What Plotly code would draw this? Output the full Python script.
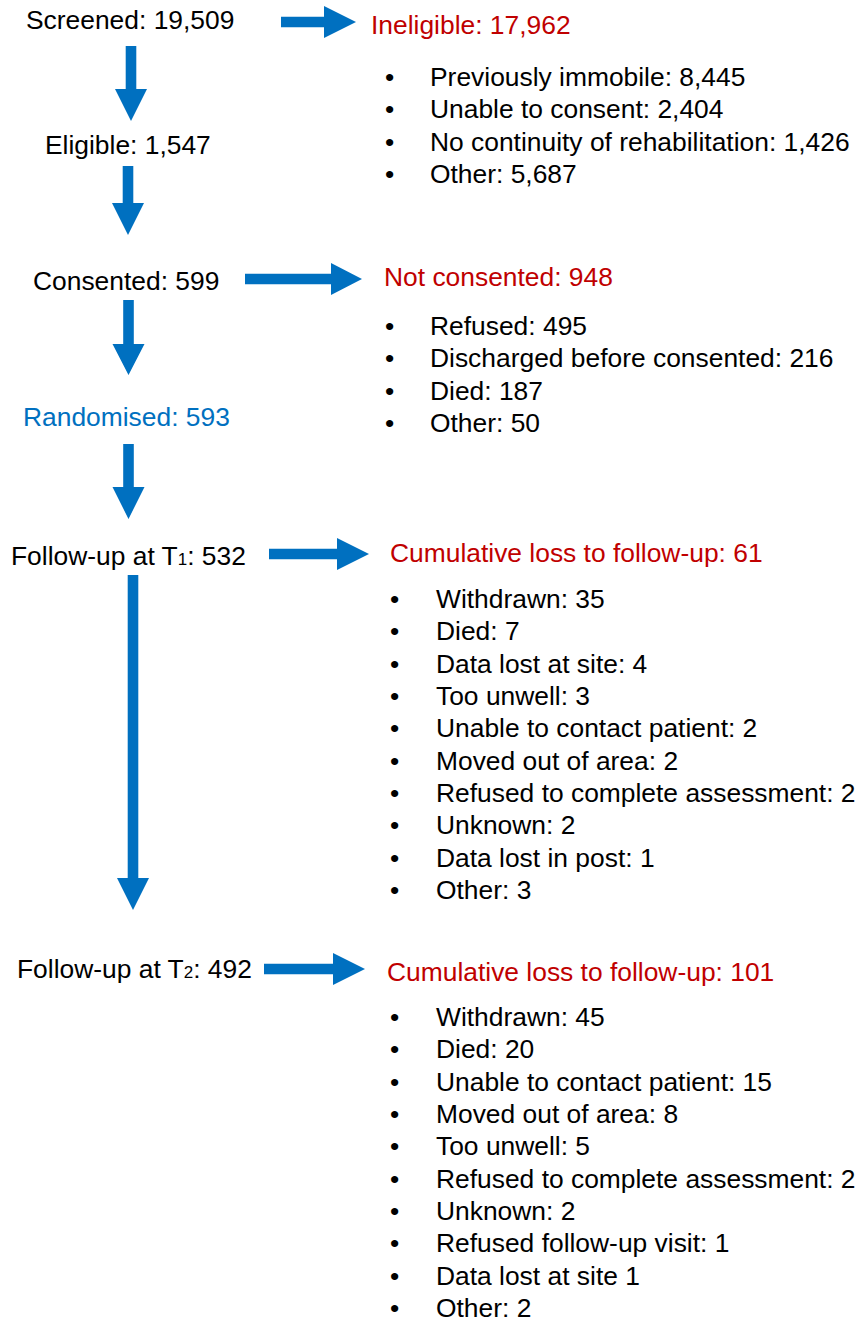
import plotly.graph_objects as go

# ---------------- data ----------------
stage_names = ["Screened", "Eligible", "Consented", "Randomised",
               "Follow-up at T<span style='font-size:17px'>1</span>",
               "Follow-up at T<span style='font-size:17px'>2</span>"]
stage_counts = ["19,509", "1,547", "599", "593", "532", "492"]

exit_titles = ["Ineligible", "Not consented",
               "Cumulative loss to follow-up", "Cumulative loss to follow-up"]
exit_counts = ["17,962", "948", "61", "101"]

ineligible_reasons = ["Previously immobile: 8,445", "Unable to consent: 2,404",
                      "No continuity of rehabilitation: 1,426", "Other: 5,687"]
not_consented_reasons = ["Refused: 495", "Discharged before consented: 216",
                         "Died: 187", "Other: 50"]
loss_t1_reasons = ["Withdrawn: 35", "Died: 7", "Data lost at site: 4",
                   "Too unwell: 3", "Unable to contact patient: 2",
                   "Moved out of area: 2", "Refused to complete assessment: 2",
                   "Unknown: 2", "Data lost in post: 1", "Other: 3"]
loss_t2_reasons = ["Withdrawn: 45", "Died: 20", "Unable to contact patient: 15",
                   "Moved out of area: 8", "Too unwell: 5",
                   "Refused to complete assessment: 2", "Unknown: 2",
                   "Refused follow-up visit: 1", "Data lost at site 1", "Other: 2"]
reason_lists = [ineligible_reasons, not_consented_reasons,
                loss_t1_reasons, loss_t2_reasons]

# ---------------- layout / style ----------------
W, H = 863, 1320
FONT = "Liberation Sans, Arial, sans-serif"
FS = 26.4
BLUE = "#0070C0"
RED = "#C00000"
LINE = 32.35

stage_pos = [(130, 20), (128, 145), (126, 281), (126, 417), (128, 556), (134, 969)]
stage_colors = ["black", "black", "black", BLUE, "black", "black"]

exit_pos = [(369, 25), (382, 277), (388, 553), (385, 972)]
bullet_x = [389, 389, 394, 394]
item_x = [428, 428, 434, 434]
first_item_y = [77, 326, 599, 1017]

# down arrows: (x center, top, head start, tip)
down_arrows = [(131, 46, 89, 121), (128, 166, 203, 235), (128.5, 300, 344, 375),
               (128.5, 444, 487, 519), (133, 575, 878, 910)]
# right arrows: (x start, head start, tip, y center)
right_arrows = [(281, 324, 356, 22), (245, 331, 362, 279),
                (269, 337, 369, 554), (264, 333, 365, 969)]
SHAFT = 5.3
HEAD = 16

fig = go.Figure()


def add_poly(xs, ys):
    fig.add_trace(go.Scatter(x=xs + [xs[0]], y=ys + [ys[0]], mode="lines",
                             fill="toself", fillcolor=BLUE,
                             line=dict(width=0, color=BLUE),
                             hoverinfo="skip", showlegend=False))


for cx, top, hs, tip in down_arrows:
    xs = [cx - SHAFT, cx + SHAFT, cx + SHAFT, cx + HEAD, cx, cx - HEAD, cx - SHAFT]
    ys = [top, top, hs, hs, tip, hs, hs]
    add_poly(xs, ys)

for x0, hs, tip, cy in right_arrows:
    xs = [x0, hs, hs, tip, hs, hs, x0]
    ys = [cy - SHAFT, cy - SHAFT, cy - HEAD, cy, cy + HEAD, cy + SHAFT, cy + SHAFT]
    add_poly(xs, ys)

annotations = []
for (x, y), name, cnt, col in zip(stage_pos, stage_names, stage_counts, stage_colors):
    annotations.append(dict(x=x, y=y, text=f"{name}: {cnt}", showarrow=False,
                            xanchor="center", yanchor="middle",
                            font=dict(family=FONT, size=FS, color=col)))

for (x, y), title, cnt in zip(exit_pos, exit_titles, exit_counts):
    annotations.append(dict(x=x, y=y, text=f"{title}: {cnt}", showarrow=False,
                            xanchor="left", yanchor="middle",
                            font=dict(family=FONT, size=FS, color=RED)))

for reasons, bx, tx, y0 in zip(reason_lists, bullet_x, item_x, first_item_y):
    for i, r in enumerate(reasons):
        y = y0 + i * LINE
        extra = {}
        if y + 17 > H:  # keep the text box inside the page at the bottom edge
            extra = dict(height=2 * (H - y) - 2)
        annotations.append(dict(x=bx, y=y, text="•", showarrow=False,
                                xanchor="center", yanchor="middle",
                                font=dict(family=FONT, size=FS, color="black"),
                                **extra))
        annotations.append(dict(x=tx, y=y, text=r, showarrow=False,
                                xanchor="left", yanchor="middle",
                                font=dict(family=FONT, size=FS, color="black"),
                                **extra))

fig.update_layout(
    width=W, height=H, margin=dict(l=0, r=0, t=0, b=0),
    paper_bgcolor="white", plot_bgcolor="white",
    xaxis=dict(range=[0, W], visible=False, fixedrange=True),
    yaxis=dict(range=[H, 0], visible=False, fixedrange=True),
    annotations=annotations, showlegend=False,
)

fig.write_html("out.html", config={"displayModeBar": False},
               post_script="document.body.style.margin='0';"
                           "document.body.style.overflow='hidden';")
